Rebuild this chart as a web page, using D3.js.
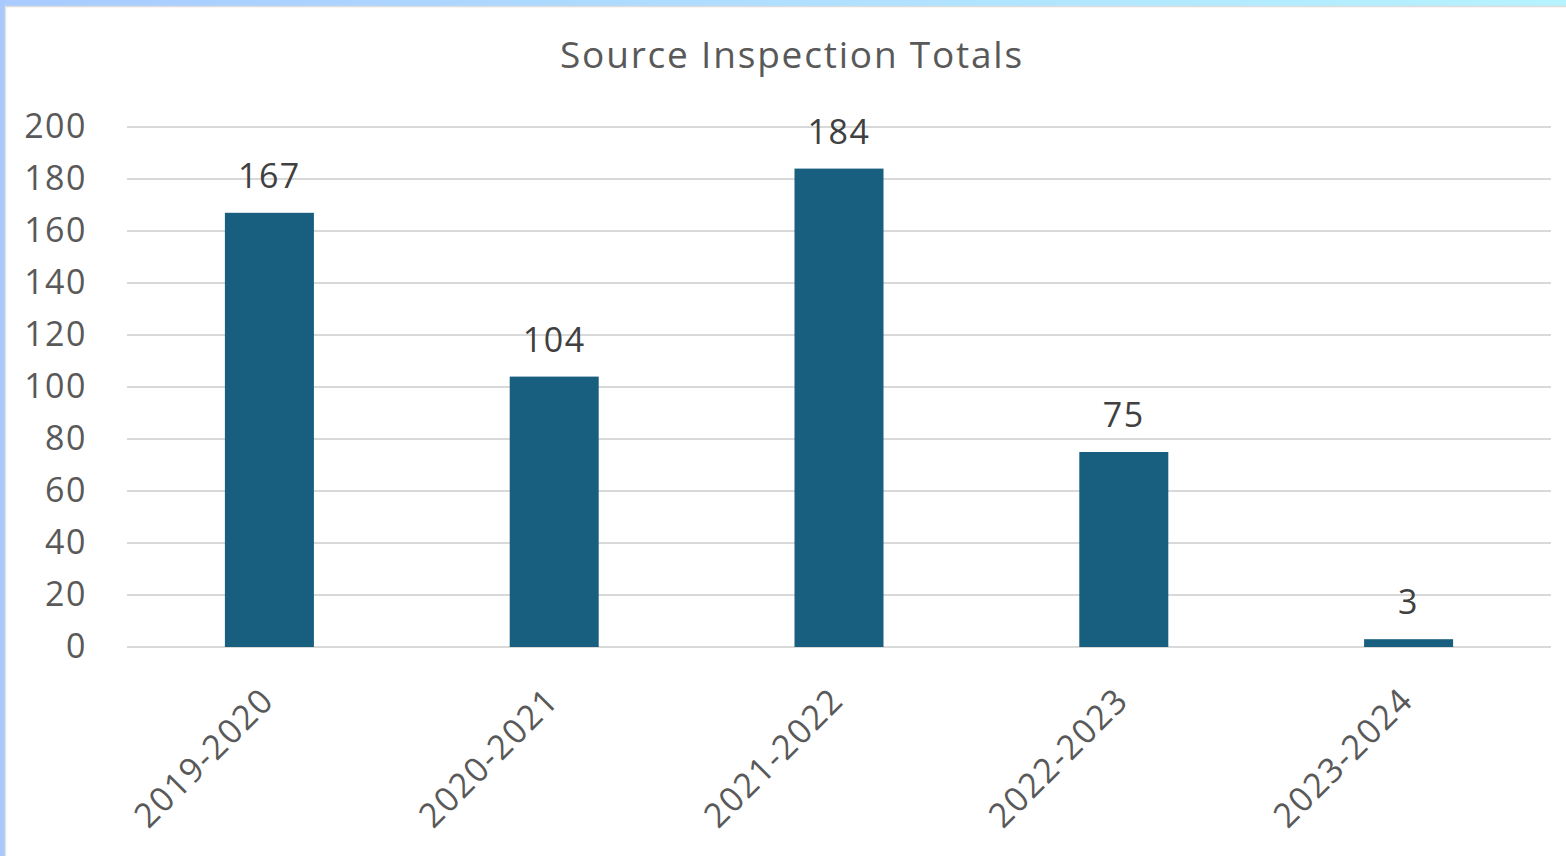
<!DOCTYPE html>
<html>
<head>
<meta charset="utf-8">
<script src="https://cdn.jsdelivr.net/npm/d3@7"></script>
<style>
  body { margin: 0; background: #fff; }
  svg { display: block; }
</style>
</head>
<body>
<svg id="chart" width="1566" height="856"></svg>
<script>
var seasons = ["2019-2020", "2020-2021", "2021-2022", "2022-2023", "2023-2024"];
var totals = [167, 104, 184, 75, 3];
var yTicks = [0, 20, 40, 60, 80, 100, 120, 140, 160, 180, 200];

var svg = d3.select("#chart"),
  margin = { top: 127, right: 15, bottom: 209, left: 127 },
  width = +svg.attr("width"),
  height = +svg.attr("height");

// frame: blue strips on top and left like the screenshot
var defs = svg.append("defs");
var grad = defs.append("linearGradient").attr("id", "topGrad");
grad.append("stop").attr("offset", "0%").attr("stop-color", "#a9cbff");
grad.append("stop").attr("offset", "100%").attr("stop-color", "#b6f3ff");
svg.append("rect").attr("x", 0).attr("y", 0).attr("width", width).attr("height", 6).attr("fill", "url(#topGrad)");
svg.append("rect").attr("x", 0).attr("y", 0).attr("width", 5).attr("height", height).attr("fill", "#a9c9ff");
svg.append("line").attr("x1", 5).attr("x2", width).attr("y1", 6.5).attr("y2", 6.5)
  .attr("stroke", "#dcdcdc").attr("stroke-width", 1.5);
svg.append("line").attr("x1", 5.5).attr("x2", 5.5).attr("y1", 6).attr("y2", height)
  .attr("stroke", "#e4e4e4").attr("stroke-width", 1.5);

var x = d3.scaleBand()
  .domain(seasons)
  .range([margin.left, width - margin.right])
  .paddingInner(0.6875)
  .paddingOuter(0.34375);

var y = d3.scaleLinear()
  .domain([0, 200])
  .range([height - margin.bottom, margin.top]);

svg.append("text")
  .attr("x", 792)
  .attr("y", 68)
  .attr("text-anchor", "middle")
  .style("font-family", "'Open Sans', sans-serif")
  .style("font-size", "37px")
  .style("letter-spacing", "1.8px")
  .style("fill", "#595959")
  .text("Source Inspection Totals");

// gridlines
svg.append("g")
  .selectAll("line")
  .data(yTicks)
  .join("line")
  .attr("x1", margin.left)
  .attr("x2", width - margin.right)
  .attr("y1", d => y(d))
  .attr("y2", d => y(d))
  .attr("stroke", "#d9d9d9")
  .attr("stroke-width", 2);

var yAxis = svg.append("g")
  .attr("transform", "translate(" + (margin.left - 40) + ",0)")
  .call(d3.axisLeft(y).tickValues(yTicks).tickSize(0).tickPadding(0));
yAxis.select(".domain").remove();
yAxis.selectAll("text")
  .style("font-family", "'Open Sans', sans-serif")
  .style("font-size", "34px")
  .style("letter-spacing", "1.5px")
  .style("fill", "#595959");

svg.append("g")
  .selectAll("rect")
  .data(totals)
  .join("rect")
  .attr("x", (d, i) => x(seasons[i]))
  .attr("width", x.bandwidth())
  .attr("y", d => y(d))
  .attr("height", d => y(0) - y(d))
  .attr("fill", "#175e7f");

svg.append("g")
  .selectAll("text")
  .data(totals)
  .join("text")
  .attr("x", (d, i) => x(seasons[i]) + x.bandwidth() / 2)
  .attr("y", d => y(d) - 25)
  .attr("text-anchor", "middle")
  .style("font-family", "'Open Sans', sans-serif")
  .style("font-size", "34px")
  .style("letter-spacing", "1.5px")
  .style("fill", "#404040")
  .text(d => d);

var xAxis = svg.append("g")
  .attr("transform", "translate(0," + y(0) + ")")
  .call(d3.axisBottom(x).tickSize(0).tickPadding(0));
xAxis.select(".domain").remove();
xAxis.selectAll("text")
  .attr("text-anchor", "end")
  .attr("dy", "0.35em")
  .attr("transform", "translate(-2,47) rotate(-45)")
  .style("font-family", "'Open Sans', sans-serif")
  .style("font-size", "34px")
  .style("letter-spacing", "1.5px")
  .style("fill", "#595959");
</script>
</body>
</html>
